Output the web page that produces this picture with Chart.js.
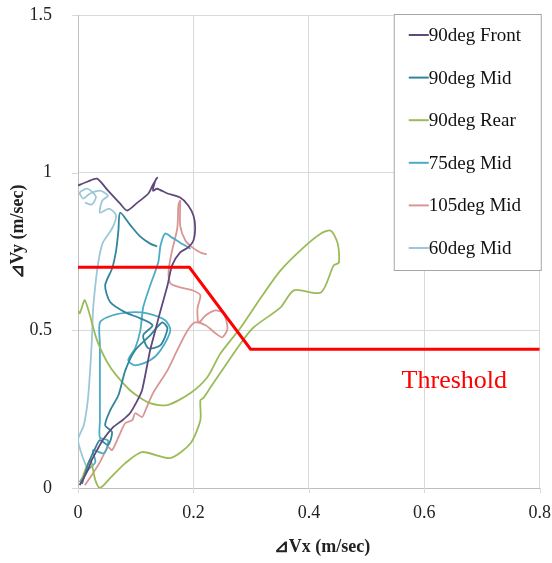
<!DOCTYPE html>
<html>
<head>
<meta charset="utf-8">
<script src="https://cdn.jsdelivr.net/npm/chart.js@4.4.1/dist/chart.umd.min.js"></script>
<style>
  html, body { margin: 0; padding: 0; background: #fff; }
</style>
</head>
<body>
<canvas id="chart" width="552" height="563"></canvas>
<script>
const xTicks = [0, 0.2, 0.4, 0.6, 0.8];
const yTicks = [0, 0.5, 1, 1.5];
const seriesNames = ['90deg Front', '90deg Mid', '90deg Rear', '75deg Mid', '105deg Mid', '60deg Mid'];
const seriesColors = ['#5f497a', '#31859c', '#9bbb59', '#4bacc6', '#d99694', '#9cc7d8'];

// [dVx, dVy] pairs
const front90 = [
  [0.003, 0.009], [0.017, 0.057], [0.024, 0.089], [0.033, 0.120], [0.043, 0.152],
  [0.061, 0.193], [0.077, 0.215], [0.090, 0.237], [0.103, 0.278], [0.111, 0.310],
  [0.125, 0.437], [0.134, 0.500], [0.143, 0.563], [0.155, 0.642], [0.163, 0.706],
  [0.177, 0.747], [0.191, 0.763], [0.200, 0.785], [0.203, 0.826], [0.200, 0.864],
  [0.191, 0.896], [0.177, 0.921], [0.155, 0.934], [0.137, 0.949], [0.130, 0.943],
  [0.134, 0.975], [0.137, 0.984], [0.129, 0.959], [0.122, 0.934], [0.103, 0.905],
  [0.085, 0.880], [0.073, 0.902], [0.052, 0.943], [0.033, 0.981], [0.017, 0.972],
  [0.000, 0.959]
];
const mid90 = [
  [0.007, 0.013], [0.017, 0.073], [0.030, 0.127], [0.038, 0.152], [0.052, 0.136],
  [0.059, 0.177], [0.047, 0.199], [0.056, 0.247], [0.070, 0.294], [0.082, 0.373],
  [0.099, 0.437], [0.125, 0.484], [0.146, 0.525], [0.155, 0.506], [0.143, 0.453],
  [0.122, 0.443], [0.113, 0.484], [0.129, 0.516], [0.108, 0.538], [0.082, 0.557],
  [0.056, 0.589], [0.047, 0.642], [0.059, 0.696], [0.066, 0.753], [0.070, 0.816],
  [0.073, 0.873], [0.090, 0.835], [0.108, 0.797], [0.125, 0.775], [0.137, 0.766]
];
const rear90 = [
  [0.003, 0.009], [0.021, 0.089], [0.030, 0.025], [0.038, 0.000], [0.056, 0.032],
  [0.082, 0.079], [0.111, 0.114], [0.160, 0.095], [0.195, 0.142], [0.212, 0.215],
  [0.212, 0.278], [0.217, 0.285], [0.230, 0.320], [0.282, 0.459], [0.304, 0.509],
  [0.351, 0.573], [0.374, 0.627], [0.421, 0.620], [0.443, 0.706], [0.452, 0.715],
  [0.450, 0.775], [0.438, 0.816], [0.421, 0.807], [0.391, 0.763], [0.351, 0.690],
  [0.317, 0.604], [0.282, 0.509], [0.247, 0.427], [0.224, 0.351], [0.195, 0.301],
  [0.155, 0.263], [0.125, 0.269], [0.090, 0.310], [0.056, 0.383], [0.033, 0.468],
  [0.012, 0.595], [0.003, 0.554], [0.000, 0.563]
];
const mid75 = [
  [0.003, 0.019], [0.017, 0.057], [0.030, 0.082], [0.026, 0.120], [0.045, 0.110],
  [0.052, 0.150], [0.038, 0.160], [0.038, 0.215], [0.038, 0.342], [0.038, 0.453],
  [0.038, 0.525], [0.059, 0.547], [0.090, 0.557], [0.120, 0.554], [0.151, 0.532],
  [0.160, 0.500], [0.143, 0.437], [0.125, 0.405], [0.099, 0.389], [0.087, 0.405],
  [0.099, 0.443], [0.108, 0.500], [0.113, 0.573], [0.125, 0.642], [0.139, 0.715],
  [0.143, 0.769], [0.151, 0.807], [0.163, 0.794], [0.177, 0.778], [0.195, 0.759]
];
const mid105 = [
  [0.012, 0.009], [0.024, 0.041], [0.038, 0.082], [0.052, 0.130], [0.059, 0.120],
  [0.070, 0.161], [0.082, 0.206], [0.094, 0.215], [0.099, 0.237], [0.111, 0.225],
  [0.117, 0.247], [0.130, 0.301], [0.155, 0.373], [0.172, 0.437], [0.190, 0.500],
  [0.203, 0.525], [0.221, 0.516], [0.238, 0.491], [0.250, 0.478], [0.259, 0.506],
  [0.252, 0.554], [0.238, 0.563], [0.221, 0.547], [0.209, 0.525], [0.207, 0.570],
  [0.212, 0.611], [0.198, 0.627], [0.177, 0.636], [0.160, 0.649], [0.157, 0.690],
  [0.163, 0.753], [0.172, 0.823], [0.174, 0.896], [0.177, 0.911], [0.177, 0.832],
  [0.186, 0.785], [0.198, 0.763], [0.212, 0.747], [0.223, 0.741]
];
const mid60 = [
  [0.017, 0.057], [0.007, 0.104], [0.000, 0.152], [0.010, 0.199], [0.017, 0.278],
  [0.021, 0.373], [0.024, 0.468], [0.026, 0.563], [0.030, 0.642], [0.035, 0.715],
  [0.043, 0.778], [0.059, 0.823], [0.066, 0.864], [0.054, 0.886], [0.038, 0.873],
  [0.042, 0.911], [0.052, 0.927], [0.038, 0.943], [0.021, 0.934], [0.009, 0.918],
  [0.003, 0.937], [0.017, 0.949], [0.031, 0.924], [0.024, 0.899], [0.012, 0.905]
];
const seriesData = [front90, mid90, rear90, mid75, mid105, mid60];

const thresholdX = [0, 0.193, 0.299, 0.8];
const thresholdY = [0.7, 0.7, 0.44, 0.44];
const thresholdLabel = 'Threshold';

const serif = '"Liberation Serif", "Times New Roman", serif';
const gridColor = '#d9d9d9';

function toPoints(pairs) {
  return pairs.map(p => ({ x: p[0], y: p[1] }));
}

const datasets = seriesNames.map((name, i) => ({
  label: name,
  data: toPoints(seriesData[i]),
  borderColor: seriesColors[i],
  borderWidth: 1.8,
  showLine: true,
  pointRadius: 0,
  tension: 0.25,
  order: 2
}));

datasets.push({
  label: thresholdLabel,
  data: thresholdX.map((x, i) => ({ x, y: thresholdY[i] })),
  borderColor: '#ff0000',
  borderWidth: 3,
  showLine: true,
  pointRadius: 0,
  tension: 0,
  order: 0
});

const overlay = {
  id: 'overlay',
  afterDraw(chart) {
    const { ctx, chartArea, scales } = chart;
    ctx.save();

    // short tick marks outside the axes
    ctx.strokeStyle = gridColor;
    ctx.lineWidth = 1;
    ctx.beginPath();
    xTicks.forEach(v => {
      const px = Math.round(scales.x.getPixelForValue(v)) + 0.5;
      ctx.moveTo(px, chartArea.bottom);
      ctx.lineTo(px, chartArea.bottom + 5);
    });
    yTicks.forEach(v => {
      const py = Math.round(scales.y.getPixelForValue(v)) + 0.5;
      ctx.moveTo(chartArea.left - 6, py);
      ctx.lineTo(chartArea.left, py);
    });
    ctx.stroke();

    // threshold text
    ctx.fillStyle = '#ff0000';
    ctx.font = '26px ' + serif;
    ctx.textAlign = 'center';
    ctx.textBaseline = 'middle';
    ctx.fillText(thresholdLabel, scales.x.getPixelForValue(0.652), scales.y.getPixelForValue(0.339));

    // axis titles
    ctx.fillStyle = '#222';
    ctx.font = 'bold 18px ' + serif;
    ctx.fillText('⊿Vx (m/sec)', chartArea.left + 244, 547);
    ctx.save();
    ctx.translate(18, chartArea.top + 217);
    ctx.rotate(-Math.PI / 2);
    ctx.fillText('⊿Vy (m/sec)', 0, 0);
    ctx.restore();

    // legend box
    const boxX = chartArea.right - 146;
    const boxY = chartArea.top - 1;
    const boxW = 147;
    const boxH = 256;
    ctx.fillStyle = '#fff';
    ctx.fillRect(boxX, boxY, boxW, boxH);
    ctx.strokeStyle = '#a6a6a6';
    ctx.lineWidth = 1;
    ctx.strokeRect(boxX + 0.5, boxY + 0.5, boxW, boxH);

    ctx.font = '19px ' + serif;
    ctx.textAlign = 'left';
    seriesNames.forEach((name, i) => {
      const y = boxY + 21 + i * 42.6;
      ctx.strokeStyle = seriesColors[i];
      ctx.lineWidth = 2;
      ctx.beginPath();
      ctx.moveTo(boxX + 15, y);
      ctx.lineTo(boxX + 35, y);
      ctx.stroke();
      ctx.fillStyle = '#111';
      ctx.fillText(name, boxX + 35, y + 1);
    });
    ctx.restore();
  }
};

new Chart(document.getElementById('chart'), {
  type: 'scatter',
  data: { datasets },
  options: {
    responsive: false,
    animation: false,
    layout: { padding: { left: 0, right: 8, top: 15, bottom: 0 } },
    plugins: { legend: { display: false }, tooltip: { enabled: false } },
    scales: {
      x: {
        type: 'linear',
        min: 0,
        max: 0.8,
        afterBuildTicks: s => { s.ticks = xTicks.map(v => ({ value: v })); },
        afterFit: s => { s.height = 75; },
        grid: { color: gridColor, tickLength: 13, tickColor: 'rgba(0,0,0,0)' },
        border: { color: '#bfbfbf' },
        ticks: { color: '#222', font: { family: serif, size: 18 }, padding: 1, callback: v => String(v) }
      },
      y: {
        type: 'linear',
        min: 0,
        max: 1.5,
        afterBuildTicks: s => { s.ticks = yTicks.map(v => ({ value: v })); },
        afterFit: s => { s.width = 78; },
        grid: { color: gridColor, tickLength: 24, tickColor: 'rgba(0,0,0,0)' },
        border: { color: '#bfbfbf' },
        ticks: { color: '#222', font: { family: serif, size: 18 }, padding: 2, callback: v => String(v) }
      }
    }
  },
  plugins: [overlay]
});
</script>
</body>
</html>
